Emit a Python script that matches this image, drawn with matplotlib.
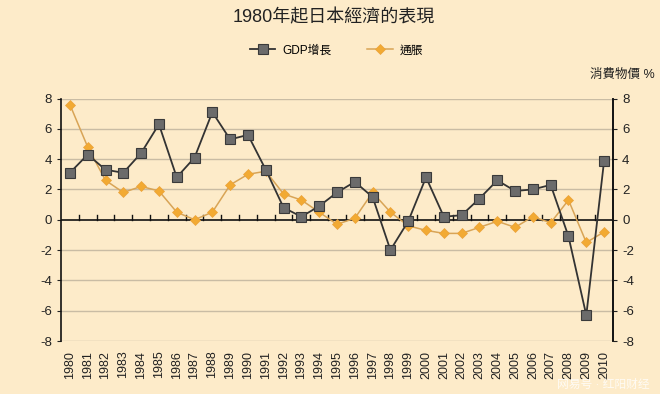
# -*- coding: utf-8 -*-
import matplotlib
matplotlib.use('Agg')
import matplotlib.pyplot as plt

plt.rcParams['font.family'] = ['Liberation Sans', 'Noto Sans CJK TC', 'DejaVu Sans']
plt.rcParams['axes.unicode_minus'] = False

# data
years = list(range(1980, 2011))
gdp = [3.1, 4.3, 3.3, 3.1, 4.4, 6.3, 2.8, 4.1, 7.1, 5.3,
       5.6, 3.3, 0.8, 0.2, 0.9, 1.8, 2.5, 1.5, -2.0, -0.1,
       2.8, 0.2, 0.3, 1.4, 2.6, 1.9, 2.0, 2.3, -1.1, -6.3,
       3.9]
cpi = [7.6, 4.8, 2.6, 1.8, 2.2, 1.9, 0.5, 0.0, 0.5, 2.3,
       3.0, 3.2, 1.7, 1.3, 0.5, -0.3, 0.1, 1.8, 0.5, -0.4,
       -0.7, -0.9, -0.9, -0.5, -0.1, -0.5, 0.2, -0.2, 1.3, -1.5,
       -0.8]
yticks = [8, 6, 4, 2, 0, -2, -4, -6, -8]

bg = '#fdebc9'

fig = plt.figure(figsize=(6.6, 3.94), dpi=100, facecolor=bg)
ax = fig.add_axes([0.0924, 0.1345, 0.8364, 0.6155])
ax.set_facecolor(bg)

x = list(range(len(years)))
l1, = ax.plot(x, gdp, color='#333333', lw=1.3, marker='s', ms=6.5,
              mfc='#6b6b6b', mec='#3a3a3a', mew=0.8, label='GDP增長', zorder=4)
l2, = ax.plot(x, cpi, color='#d8a456', lw=1.1, marker='D', ms=5.5,
              mfc='#f2aa33', mec='#eaa23a', mew=0.5, label='通脹', zorder=3)

ax.set_xlim(-0.5, len(years) - 0.5)
ax.set_ylim(-8, 8)
ax.set_yticks(yticks)
for t in yticks:
    if t != 0:
        ax.axhline(t, color='#c9bca4', lw=1.0, zorder=1)
ax.axhline(0, color='#111111', lw=1.2, zorder=2)

# category ticks sit on the zero line
for i in range(1, len(years)):
    ax.plot([i - 0.5, i - 0.5], [0, 0.3], color='#111111', lw=1.0, zorder=2)

ax.set_xticks(x)
ax.set_xticklabels([str(y) for y in years], rotation=90, fontsize=9, color='#222222')
ax.tick_params(axis='x', length=0, pad=7)
ax.tick_params(axis='y', labelsize=9.5, length=3, direction='out', colors='#222222')

for s in ['top', 'bottom']:
    ax.spines[s].set_visible(False)
ax.spines['left'].set_color('#111111')
ax.spines['left'].set_linewidth(1.2)
ax.spines['right'].set_color('#111111')
ax.spines['right'].set_linewidth(1.2)

ax2 = ax.twinx()
ax2.set_ylim(-8, 8)
ax2.set_yticks(yticks)
ax2.tick_params(axis='y', labelsize=9.5, length=3, direction='out', colors='#222222')
for s in ['top', 'bottom', 'left']:
    ax2.spines[s].set_visible(False)
ax2.spines['right'].set_color('#111111')
ax2.spines['right'].set_linewidth(1.2)

fig.text(0.505, 0.955, '1980年起日本經濟的表現', ha='center', va='center',
         fontsize=13, color='#222222')
fig.legend(handles=[l1, l2], loc='center', bbox_to_anchor=(0.51, 0.872),
           ncol=2, frameon=False, fontsize=8.5, columnspacing=3.0,
           handlelength=2.2, handletextpad=0.6)
fig.text(0.992, 0.81, '消費物價 %', ha='right', va='center', fontsize=9, color='#222222')
fig.text(0.985, 0.022, '网易号 · 红阳财经', ha='right', va='center', fontsize=8.5,
         color='white', alpha=0.8)

fig.savefig('out.png', dpi=100, facecolor=bg)
